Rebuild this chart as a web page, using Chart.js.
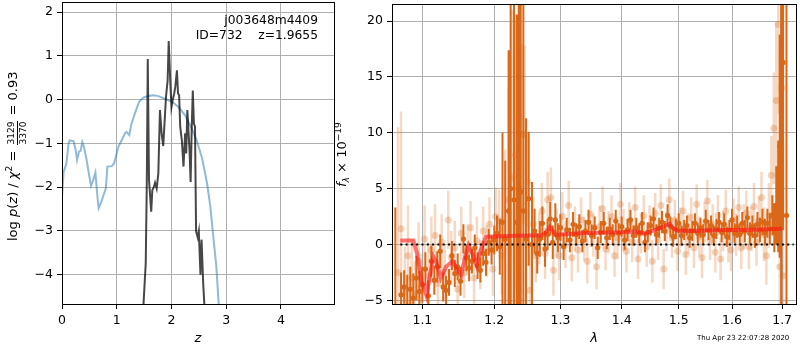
<!DOCTYPE html>
<html><head><meta charset="utf-8">
<script src="https://cdn.jsdelivr.net/npm/chart.js@4.4.1/dist/chart.umd.min.js"></script>
<style>
body{margin:0;background:#fff;}
#wrap{position:relative;width:800px;height:350px;overflow:hidden;font-family:'DejaVu Sans';color:#000;background:#fff;}
canvas{position:absolute;left:0;top:0;}
.t{position:absolute;white-space:pre;line-height:1;font-weight:normal;}
.rot{transform-origin:0 0;transform:rotate(-90deg);}
.frac{display:inline-flex;flex-direction:column;vertical-align:0.35em;font-size:9px;line-height:1;text-align:center;margin:0 1px;}
.frac .num{border-bottom:1px solid #000;padding:0 1px 1px 1px;}
.frac .den{padding:1px 1px 0 1px;}
sup{font-size:0.7em;vertical-align:0.55em;line-height:0;}
sub{font-size:0.7em;vertical-align:-0.3em;line-height:0;}
</style></head>
<body>
<div id="wrap">
<canvas id="c1" width="800" height="350"></canvas>
<canvas id="c2" width="800" height="350"></canvas>
<div class="t rot" id="yl1" style="left:4px;top:241px;font-size:13px;line-height:18px;">log <i>p</i>(<i>z</i>) / <i>χ</i><sup>2</sup> = <span class="frac"><span class="num">3129</span><span class="den">3370</span></span> = 0.93</div>
<div class="t rot" id="yl2" style="left:334px;top:187px;font-size:13px;line-height:16px;"><i>f</i><sub><i>λ</i></sub> × 10<sup>−19</sup></div>
<div class="t" style="right:482px;top:13px;font-size:12.3px;text-align:right;line-height:15px;">j003648m4409
ID=732    z=1.9655</div>
<div class="t" style="left:697px;top:335px;font-size:7px;">Thu Apr 23 22:07:28 2020</div>
</div>
<script>
// ---------- Left panel: log p(z) ----------
const Z_TICKS = [0, 1, 2, 3, 4];
const LOGP_TICKS = [-4, -3, -2, -1, 0, 1, 2];
const Z_BLUE = [0,0.03,0.08,0.12,0.14,0.21,0.25,0.275,0.31,0.34,0.37,0.40,0.45,0.48,0.53,0.57,0.61,0.65,0.67,0.72,0.77,0.80,0.83,0.91,0.95,1.03,1.09,1.15,1.18,1.23,1.27,1.33,1.38,1.41,1.49,1.58,1.67,1.76,1.88,2.01,2.13,2.25,2.37,2.46,2.56,2.65,2.71,2.77,2.82,2.86,2.90];
const LOGP_BLUE = [-2.22,-1.65,-1.46,-1.0,-0.93,-0.95,-1.15,-1.38,-1.19,-1.17,-0.97,-1.08,-1.38,-1.61,-1.97,-1.84,-1.67,-2.25,-2.48,-2.33,-2.14,-2.03,-1.53,-1.52,-1.46,-1.08,-0.93,-0.77,-0.74,-0.81,-0.55,-0.32,-0.15,-0.05,0.05,0.08,0.10,0.08,0.02,-0.05,-0.17,-0.36,-0.66,-0.93,-1.34,-1.91,-2.44,-3.20,-3.81,-4.61,-5.4];
const Z_DARK = [1.46,1.49,1.53,1.55,1.567,1.59,1.63,1.65,1.68,1.70,1.73,1.76,1.79,1.82,1.85,1.90,1.93,1.95,1.98,2.00,2.02,2.05,2.07,2.10,2.12,2.14,2.16,2.19,2.22,2.25,2.27,2.29,2.33,2.35,2.37,2.39,2.41,2.43,2.45,2.48,2.50,2.53,2.55,2.58,2.60,2.64];
const LOGP_DARK = [-5.6,-4.66,-3.74,-1.84,0.93,-1.84,-2.56,-2.07,-1.99,-1.90,-2.03,-1.69,-0.24,-0.77,-1.06,0.06,0.44,1.34,0.36,-0.17,-0.02,0.14,0.29,0.67,0.14,0.10,-0.62,-0.93,-1.53,-0.77,-1.23,-0.24,-1.15,-1.88,-0.66,0.21,-0.55,-0.62,-3.01,-3.15,-3.01,-4.00,-3.20,-4.2,-4.66,-5.6];

// ---------- Right panel: spectrum ----------
const LAM_TICKS = [1.1, 1.2, 1.3, 1.4, 1.5, 1.6, 1.7];
const FLUX_TICKS = [-5, 0, 5, 10, 15, 20];
const LAM_D = [1.0646,1.072,1.076,1.080,1.084,1.088,1.092,1.096,1.100,1.104,
1.108,1.112,1.116,1.120,1.124,1.128,1.132,1.136,1.140,1.144,
1.148,1.152,1.156,1.160,1.164,1.168,1.172,1.176,1.180,1.184,
1.188,1.192,1.196,1.200,1.204,1.208,1.212,1.216,1.221,1.224,
1.229,1.233,1.236,1.239,1.243,1.247,1.251,1.256,1.260,1.264,
1.268,1.272,1.276,1.280,1.284,1.288,1.292,1.296,1.300,1.305,
1.310,1.315,1.320,1.325,1.330,1.335,1.340,1.345,1.350,1.355,
1.360,1.365,1.370,1.375,1.380,1.385,1.390,1.395,1.400,1.405,
1.410,1.415,1.420,1.425,1.430,1.435,1.440,1.445,1.450,1.455,
1.460,1.465,1.470,1.475,1.480,1.485,1.490,1.495,1.500,1.505,
1.510,1.515,1.520,1.525,1.530,1.535,1.540,1.545,1.550,1.555,
1.560,1.565,1.570,1.575,1.580,1.585,1.590,1.595,1.600,1.605,
1.610,1.615,1.620,1.625,1.630,1.635,1.640,1.645,1.650,1.655,
1.660,1.665,1.670,1.675,1.680,1.684,1.688,1.692,1.695,1.698,
1.702,1.709];
const F_D = [-6.7,-4.5,-3.8,-5.5,-4.0,-4.8,-3.0,-4.2,-3.6,-2.2,
-4.6,-1.5,-3.2,-2.0,-0.6,-3.8,-4.1,-3.4,-1.0,-2.6,
-2.0,-3.3,0.5,-1.2,-2.1,-1.5,-0.3,-1.9,-2.3,-0.8,
-1.6,0.2,-0.5,0.4,1.0,-0.2,2.0,0.5,3.0,5.0,
4.0,2.0,4.7,4.7,3.0,0.5,4.1,0.0,1.2,-0.8,
0.5,1.9,-0.4,0.9,2.3,0.2,2.2,0.6,1.5,-0.2,
1.3,0.4,1.8,0.9,1.6,0.3,1.2,2.0,0.8,1.5,
-0.3,1.1,1.9,0.6,1.4,0.9,2.1,1.0,1.6,0.4,
1.3,2.2,0.8,1.5,1.0,1.9,0.2,1.1,1.7,2.3,
0.9,1.5,2.0,1.2,2.6,1.6,0.7,1.4,1.9,0.8,
1.3,1.7,0.6,1.2,1.9,1.0,1.5,0.9,2.1,1.3,
1.7,0.8,1.4,2.0,1.1,1.8,0.7,1.3,2.2,1.0,
1.6,0.9,1.9,1.2,2.4,1.0,1.6,0.8,1.8,1.3,
2.0,1.1,1.9,1.4,2.6,1.5,3.5,4.3,8.8,7.6,
16.3,2.6];
const E_D = [10,2.0,1.5,2.8,2.0,2.2,2.0,1.8,1.6,1.5,
1.4,1.4,1.3,1.4,1.5,1.3,1.3,1.2,1.3,1.2,
1.2,1.3,1.3,1.2,1.2,1.1,1.2,1.2,1.1,1.1,
1.2,1.2,1.3,1.3,1.6,2.5,8,7,14.4,25,
25,18.6,25,22,25,10.8,6,5.6,2.0,1.8,
1.6,1.5,1.6,1.4,1.5,1.5,1.5,1.3,1.2,1.2,
1.1,1.1,1.1,1.0,1.1,1.0,1.0,1.1,1.0,1.0,
1.0,1.0,1.0,1.0,1.0,0.9,1.0,0.9,0.9,0.9,
1.0,0.9,0.9,0.9,0.9,1.0,0.9,0.9,0.9,1.0,
0.9,0.9,1.0,0.9,1.0,0.9,0.9,0.9,0.9,0.9,
0.9,0.9,0.9,0.9,0.9,0.9,0.9,0.9,1.0,0.9,
0.9,0.9,0.9,0.9,0.9,1.0,0.9,0.9,1.0,0.9,
1.0,1.0,1.0,1.0,1.0,1.0,1.0,1.1,1.1,1.1,
1.2,1.2,1.3,1.4,1.8,2.2,3.5,5,10,15,
15,25];
const LAM_L = [1.068,1.072,1.077,1.081,1.086,1.090,1.095,1.099,1.103,1.108,
1.112,1.117,1.121,1.126,1.130,1.135,1.139,1.144,1.148,1.153,
1.157,1.162,1.166,1.171,1.175,1.180,1.184,1.189,1.193,1.198,
1.202,1.207,1.211,1.216,1.221,1.226,1.231,1.236,1.241,1.245,
1.250,1.253,1.258,1.262,1.267,1.271,1.276,1.280,1.285,1.289,
1.294,1.298,1.303,1.308,1.313,1.318,1.323,1.328,1.333,1.338,
1.343,1.348,1.353,1.358,1.363,1.368,1.373,1.378,1.383,1.388,
1.393,1.398,1.403,1.408,1.413,1.418,1.423,1.428,1.433,1.438,
1.443,1.448,1.453,1.458,1.463,1.468,1.473,1.478,1.483,1.488,
1.493,1.498,1.503,1.508,1.513,1.518,1.523,1.528,1.533,1.538,
1.543,1.548,1.553,1.558,1.563,1.568,1.573,1.578,1.583,1.588,
1.593,1.598,1.603,1.608,1.613,1.618,1.623,1.628,1.633,1.638,
1.643,1.648,1.653,1.658,1.663,1.668,1.673,1.678,1.683,1.688,
1.692,1.695,1.699,1.702];
const F_L = [-2.5,1.4,-4.2,-1.0,-3.0,-4.5,-1.5,-3.8,0.5,-2.8,
-0.5,0.8,-3.5,0.2,-2.5,2.2,-1.2,-0.3,-4.0,1.0,
-2.5,-0.5,1.5,-3.0,0.3,-1.8,1.2,-0.6,1.8,-2.2,
2.5,2.1,-1.0,0.5,4.0,6.0,8.0,5.0,9.9,9.8,
5.6,-4.1,1.8,-1.0,0.5,3.0,-0.8,4.0,4.2,-2.3,
1.0,-1.0,2.5,0.0,3.5,-1.2,1.4,-0.5,2.2,0.5,
-1.5,2.7,0.8,-2.0,1.6,3.2,-0.4,1.1,2.5,-1.0,
0.6,3.6,1.3,-0.6,2.0,0.2,3.3,-1.3,1.0,2.6,
-0.2,1.7,-1.5,2.8,0.4,3.5,-2.2,1.2,4.0,0.6,
2.2,-0.6,1.5,3.0,-0.9,1.0,2.4,-0.3,3.6,0.7,
-1.2,2.0,3.9,0.4,1.8,-0.7,2.6,-1.3,1.2,3.0,
0.2,-0.5,2.2,0.9,3.3,-0.3,1.6,2.8,-0.2,1.4,
3.4,0.2,2.1,4.2,0.9,-1.0,2.6,6.2,10.4,12.9,
19.7,-2.0,14.0,-2.8];
const E_L = [13,10.5,4,4.5,3.5,3,3.5,3,3,3,
3,2.8,2.6,2.5,2.5,2.6,2.4,2.4,2.5,2.4,
2.3,2.3,2.4,2.3,2.2,2.2,2.2,2.3,2.4,2.4,
2.6,2.8,3.5,8,10,15,12,15,8,8,
4,4,2.5,2.4,2.3,2.5,2.3,2.5,2.7,2.3,
2.2,2.2,2.2,2.1,2.2,2.1,2.0,2.0,2.0,2.0,
2.0,2.0,1.9,2.0,1.9,2.0,1.9,1.9,1.9,1.9,
1.9,1.9,1.9,1.9,1.8,1.8,1.9,1.8,1.8,1.8,
1.8,1.8,1.9,1.8,1.8,1.9,1.8,1.8,1.9,1.8,
1.8,1.8,1.8,1.8,1.8,1.8,1.8,1.8,1.8,1.8,
1.8,1.8,1.9,1.8,1.8,1.8,1.8,1.9,1.8,1.9,
1.8,1.9,1.9,1.9,1.9,1.9,2.0,2.0,2.0,2.0,
2.1,2.1,2.2,2.3,2.4,2.6,2.9,3.5,5,7,
8,10,9,12];
const LAM_M = [1.071,1.088,1.093,1.099,1.1055,1.110,1.1146,1.119,1.1247,1.132,1.1409,1.147,1.153,1.158,1.1633,1.169,1.1745,1.180,1.188,1.20,1.22,1.25,1.27,1.276,1.2834,1.288,1.2925,1.30,1.33,1.36,1.40,1.425,1.435,1.4408,1.45,1.465,1.477,1.484,1.490,1.497,1.52,1.55,1.58,1.62,1.66,1.70];
const F_M = [0.35,0.35,-0.8,-3.3,-4.6,-2.8,-1.1,-1.6,-3.0,-2.0,-1.5,-2.2,-2.75,-1.2,-0.1,-0.9,-1.85,-0.6,0.7,0.72,0.75,0.8,0.8,1.0,1.55,1.2,0.85,0.9,1.0,1.05,1.1,1.15,1.05,0.95,1.15,1.45,1.7,1.85,1.45,1.25,1.2,1.25,1.3,1.3,1.35,1.4];
const LAM_ZERO = [1.071, 1.724];
const F_ZERO = [0, 0];

const FONT = 'DejaVu Sans';
const minus = v => (v < 0 ? '\u2212' + Math.abs(v) : String(v));
const pts = (X, Y) => X.map((x, i) => ({x: x, y: Y[i]}));
function errSegs(L, F, E) {
  const out = [];
  for (let i = 0; i < L.length; i++) {
    out.push({x: L[i], y: F[i] - E[i]}, {x: L[i], y: F[i] + E[i]}, {x: L[i], y: null});
  }
  return out;
}
const boxPlugin = {
  id: 'box',
  afterDraw(chart) {
    const a = chart.chartArea, ctx = chart.ctx;
    ctx.save();
    ctx.strokeStyle = '#000';
    ctx.lineWidth = 1;
    const l = Math.floor(a.left) + 0.5, r = Math.floor(a.right) + 0.5;
    const t = Math.floor(a.top) + 0.5, b = Math.floor(a.bottom) + 0.5;
    ctx.strokeRect(l, t, r - l, b - t);
    ctx.restore();
  }
};
function axisCommon(ticksArr, fmt) {
  return {
    afterBuildTicks: s => { s.ticks = ticksArr.map(v => ({value: v})); },
    ticks: {callback: fmt, color: '#000', font: {family: FONT, size: 12.5}, padding: 4, maxRotation: 0, autoSkip: false},
    grid: {color: '#b0b0b0', lineWidth: 1, tickColor: '#000', tickLength: 5, drawTicks: true},
    border: {display: false}
  };
}
const base = {
  responsive: false, animation: false, events: [],
  plugins: {legend: {display: false}, tooltip: {enabled: false}}
};
const fitX = s => { s.height = 46; s.paddingLeft = 0; s.paddingRight = 0; };
const fitY = w => s => { s.width = w; s.paddingTop = 0; s.paddingBottom = 0; };

new Chart(document.getElementById('c1'), {
  type: 'scatter',
  data: {datasets: [
    {data: pts(Z_DARK, LOGP_DARK), showLine: true, borderColor: 'rgba(0,0,0,0.72)', borderWidth: 2, pointRadius: 0, order: 1},
    {data: pts(Z_BLUE, LOGP_BLUE), showLine: true, borderColor: 'rgba(31,119,180,0.5)', borderWidth: 2, pointRadius: 0, order: 2}
  ]},
  options: Object.assign({}, base, {
    layout: {padding: {left: 0, right: 466, top: 2, bottom: 0}},
    scales: {
      x: Object.assign(axisCommon(Z_TICKS, v => minus(v)), {
        type: 'linear', min: 0, max: 4.97, afterFit: fitX,
        title: {display: true, text: 'z', color: '#000', font: {family: FONT, size: 13, style: 'italic'}, padding: {top: 0, bottom: 4}}
      }),
      y: Object.assign(axisCommon(LOGP_TICKS, v => minus(v)), {
        type: 'linear', min: -4.67, max: 2.23, afterFit: fitY(62)
      })
    }
  }),
  plugins: [boxPlugin]
});

new Chart(document.getElementById('c2'), {
  type: 'scatter',
  data: {datasets: [
    {data: pts(LAM_ZERO, F_ZERO), showLine: true, borderColor: '#000', borderWidth: 2, borderDash: [2, 3.3], pointRadius: 0, order: 1},
    {data: pts(LAM_M, F_M), showLine: true, borderColor: 'rgba(255,20,20,0.6)', borderWidth: 4, pointRadius: 0, order: 2},
    {data: pts(LAM_D, F_D), showLine: false, pointRadius: 2.6, pointBorderWidth: 0, backgroundColor: 'rgb(217,104,25)', order: 3},
    {data: errSegs(LAM_D, F_D, E_D), showLine: true, spanGaps: false, borderColor: 'rgb(217,104,25)', borderWidth: 2, pointRadius: 0, order: 4},
    {data: pts(LAM_L, F_L), showLine: false, pointRadius: 3.5, pointBorderWidth: 0, backgroundColor: 'rgba(217,104,25,0.28)', order: 5},
    {data: errSegs(LAM_L, F_L, E_L), showLine: true, spanGaps: false, borderColor: 'rgba(217,104,25,0.25)', borderWidth: 2.5, pointRadius: 0, order: 6}
  ]},
  options: Object.assign({}, base, {
    layout: {padding: {left: 352, right: 1, top: 2, bottom: 0}},
    scales: {
      x: Object.assign(axisCommon(LAM_TICKS, v => Number(v).toFixed(1)), {
        type: 'logarithmic', min: 1.0603, max: 1.7288, afterFit: fitX,
        title: {display: true, text: 'λ', color: '#000', font: {family: FONT, size: 13, style: 'italic'}, padding: {top: 0, bottom: 4}}
      }),
      y: Object.assign(axisCommon(FLUX_TICKS, v => minus(v)), {
        type: 'linear', min: -5.33, max: 21.53, afterFit: fitY(40)
      })
    }
  }),
  plugins: [boxPlugin]
});
</script>
</body></html>
